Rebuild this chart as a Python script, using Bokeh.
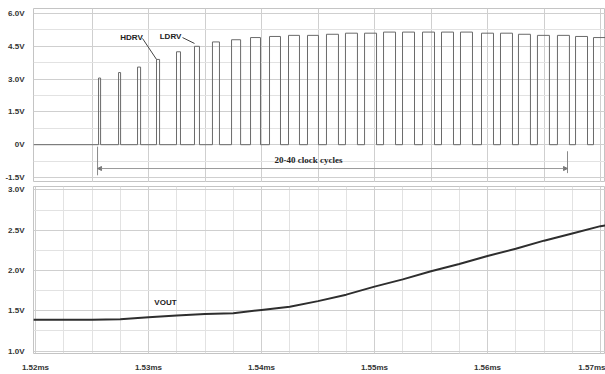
from bokeh.plotting import figure
from bokeh.layouts import column
from bokeh.models import Range1d, FixedTicker, Label, Arrow, NormalHead
from bokeh.embed import file_html
from bokeh.resources import INLINE

# ---------------- data ----------------
# gate-drive pulses (top panel)
pulse_start_ms = [1.52558, 1.52735, 1.52903, 1.53071, 1.53248, 1.53407, 1.53566,
                  1.53735, 1.53903, 1.54071, 1.54239, 1.54407, 1.54575, 1.54743,
                  1.54912, 1.55080, 1.55248, 1.55425, 1.55593, 1.55761, 1.55947,
                  1.56115, 1.56274, 1.56442, 1.56619, 1.56779, 1.56938]
pulse_width_us = [0.18, 0.18, 0.27, 0.27, 0.35, 0.44, 0.62, 0.80, 0.88, 0.97,
                  0.97, 0.97, 1.06, 1.06, 1.06, 1.06, 1.06, 1.06, 1.06, 1.06,
                  1.06, 1.06, 1.06, 1.06, 1.06, 1.06, 1.06]
pulse_high_v = [3.05, 3.30, 3.55, 3.90, 4.25, 4.50, 4.70, 4.80, 4.90, 4.95,
                5.00, 5.00, 5.05, 5.10, 5.10, 5.15, 5.15, 5.15, 5.15, 5.15,
                5.10, 5.10, 5.05, 5.00, 5.00, 4.95, 4.90]

# output voltage (bottom panel)
vout_time_ms = [1.5198, 1.5225, 1.525, 1.5275, 1.530, 1.5325, 1.535, 1.5375,
                1.540, 1.5425, 1.545, 1.5475, 1.550, 1.5525, 1.555, 1.5575,
                1.560, 1.5625, 1.565, 1.5675, 1.570, 1.5705]
vout_v = [1.39, 1.39, 1.39, 1.395, 1.42, 1.44, 1.46, 1.47,
          1.51, 1.55, 1.62, 1.70, 1.80, 1.89, 1.99, 2.08,
          2.18, 2.27, 2.37, 2.46, 2.55, 2.56]

top_ticks = [-1.5, 0.0, 1.5, 3.0, 4.5, 6.0]
top_tick_labels = ["-1.5V", "0V", "1.5V", "3.0V", "4.5V", "6.0V"]
top_minor = [-0.75, 0.75, 2.25, 3.75, 5.25]
bot_ticks = [1.0, 1.5, 2.0, 2.5, 3.0]
bot_tick_labels = ["1.0V", "1.5V", "2.0V", "2.5V", "3.0V"]
bot_minor = [1.25, 1.75, 2.25, 2.75]
time_ticks = [1.52, 1.53, 1.54, 1.55, 1.56, 1.57]
time_tick_labels = ["1.52ms", "1.53ms", "1.54ms", "1.55ms", "1.56ms", "1.57ms"]
time_grid_top = [1.525, 1.53, 1.535, 1.54, 1.545, 1.55, 1.555, 1.56, 1.565, 1.57]
time_grid_minor = [1.5225, 1.525, 1.5275, 1.5325, 1.535, 1.5375, 1.5425, 1.545,
                   1.5475, 1.5525, 1.555, 1.5575, 1.5625, 1.565, 1.5675]

# ---------------- styling helpers ----------------
FONT = "Liberation Sans"
GRID = "#cfcfcf"
MINOR = "#e2e2e2"

xr = Range1d(1.519823, 1.570442)


def style(p):
    p.outline_line_color = "#c4c4c4"
    p.background_fill_color = "white"
    p.border_fill_color = "white"
    for ax in p.yaxis:
        ax.axis_line_color = None
        ax.major_tick_line_color = None
        ax.minor_tick_line_color = None
        ax.major_label_text_font = FONT
        ax.major_label_text_font_size = "8px"
        ax.major_label_text_font_style = "bold"
        ax.major_label_text_color = "#333333"
        ax.major_label_standoff = 3
    p.xgrid.grid_line_color = GRID
    p.ygrid.grid_line_color = GRID


# ---------------- top panel ----------------
p1 = figure(width=605, height=182, x_range=xr, y_range=Range1d(-1.729, 6.229),
            output_backend="svg", toolbar_location=None,
            min_border_left=33, min_border_right=0, min_border_top=8, min_border_bottom=0)
style(p1)
p1.xaxis.visible = False
tk = FixedTicker(ticks=top_ticks, minor_ticks=top_minor)
p1.yaxis.ticker = tk
p1.ygrid.ticker = tk
p1.yaxis.major_label_overrides = dict(zip(top_ticks, top_tick_labels))
p1.ygrid.minor_grid_line_color = MINOR
p1.xgrid.ticker = FixedTicker(ticks=time_grid_top)

wx = [xr.start]
wy = [0.0]
for t, w, h in zip(pulse_start_ms, pulse_width_us, pulse_high_v):
    te = t + w / 1000.0
    wx += [t, t, te, te]
    wy += [0.0, h, h, 0.0]
wx.append(xr.end)
wy.append(0.0)
p1.line(wx, wy, line_color="#6a6a6a", line_width=1)

lab_style = dict(text_font=FONT, text_font_size="8px", text_font_style="bold",
                 text_color="#222222", text_align="center", text_baseline="middle")
p1.add_layout(Label(x=1.52850, y=4.90, text="HDRV", **lab_style))
p1.add_layout(Label(x=1.53195, y=4.95, text="LDRV", **lab_style))
p1.segment(x0=[1.52947, 1.53301], y0=[4.86, 4.90], x1=[pulse_start_ms[3], pulse_start_ms[5]],
           y1=[pulse_high_v[3], 4.63], line_color="#444444", line_width=1)

# dimension "20-40 clock cycles"
dim_l = 1.52549
dim_r = 1.56708
p1.segment(x0=[dim_l, dim_r], y0=[-0.09, -0.30], x1=[dim_l, dim_r], y1=[-1.40, -1.30],
           line_color="#8a8a8a", line_width=1)
p1.add_layout(Arrow(x_start=(dim_l + dim_r) / 2, y_start=-1.09, x_end=dim_l, y_end=-1.09,
                    line_color="#9a9a9a", line_width=1,
                    end=NormalHead(size=4, fill_color="#777777", line_color="#777777")))
p1.add_layout(Arrow(x_start=(dim_l + dim_r) / 2, y_start=-1.09, x_end=dim_r, y_end=-1.09,
                    line_color="#9a9a9a", line_width=1,
                    end=NormalHead(size=4, fill_color="#777777", line_color="#777777")))
p1.add_layout(Label(x=1.54416, y=-0.70, text="20-40 clock cycles", text_font="Liberation Serif",
                    text_font_size="9px", text_font_style="bold", text_color="#222222",
                    text_align="center", text_baseline="middle"))

# ---------------- bottom panel ----------------
p2 = figure(width=605, height=192, x_range=xr, y_range=Range1d(0.970, 3.042),
            output_backend="svg", toolbar_location=None,
            min_border_left=33, min_border_right=0, min_border_top=4, min_border_bottom=16)
style(p2)
tk2 = FixedTicker(ticks=bot_ticks, minor_ticks=bot_minor)
p2.yaxis.ticker = tk2
p2.ygrid.ticker = tk2
p2.yaxis.major_label_overrides = dict(zip(bot_ticks, bot_tick_labels))
p2.ygrid.minor_grid_line_color = MINOR
tkx = FixedTicker(ticks=time_ticks, minor_ticks=time_grid_minor)
p2.xaxis.ticker = tkx
p2.xgrid.ticker = tkx
p2.xgrid.minor_grid_line_color = MINOR
p2.xaxis.major_label_overrides = dict(zip(time_ticks, time_tick_labels))
for ax in p2.xaxis:
    ax.axis_line_color = None
    ax.major_tick_line_color = None
    ax.minor_tick_line_color = None
    ax.major_label_text_font = FONT
    ax.major_label_text_font_size = "8px"
    ax.major_label_text_font_style = "bold"
    ax.major_label_text_color = "#333333"
    ax.major_label_standoff = 3

p2.line(vout_time_ms, vout_v, line_color="#2e2e2e", line_width=2)
p2.add_layout(Label(x=1.53150, y=1.608, text="VOUT", **lab_style))

layout = column(p1, p2, spacing=0)
open("out.html", "w").write(file_html(layout, INLINE))
